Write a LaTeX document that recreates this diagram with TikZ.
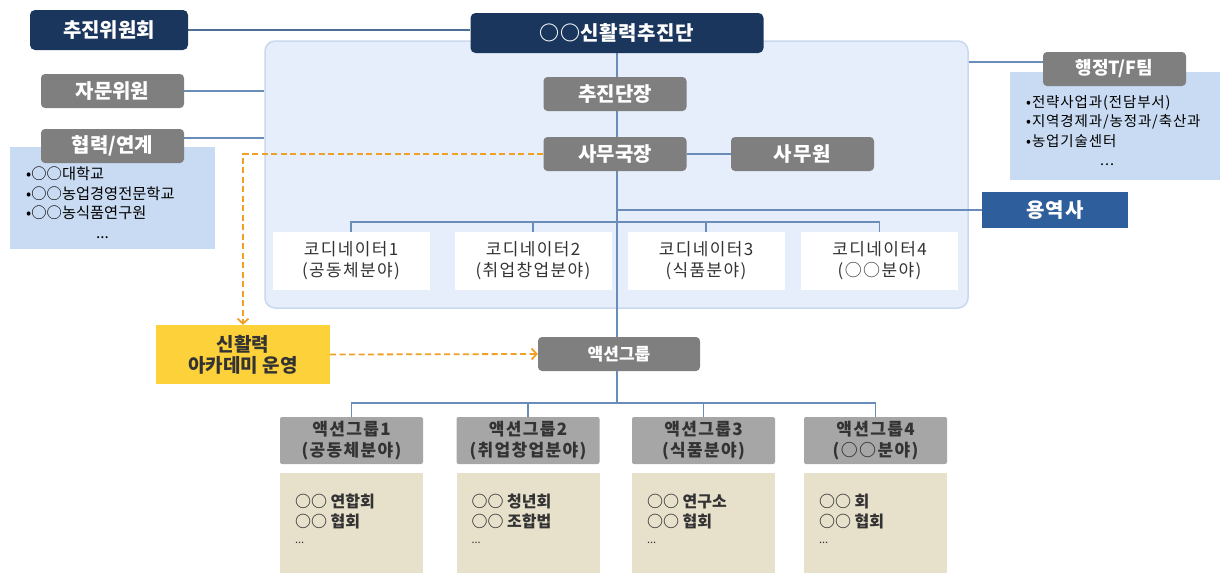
\documentclass[tikz,border=0pt]{standalone}
\usepackage{fontspec}
\setmainfont{Noto Sans CJK KR}
\usetikzlibrary{arrows.meta}
\definecolor{navy}{HTML}{1B365D}
\definecolor{boxgray}{HTML}{7F7F7F}
\definecolor{lgray}{HTML}{A6A6A6}
\definecolor{midblue}{HTML}{2F5E9C}
\definecolor{bigfill}{HTML}{E5EEFA}
\definecolor{bigline}{HTML}{C8D9EF}
\definecolor{sidefill}{HTML}{C9DBF2}
\definecolor{conn}{HTML}{6A8CB8}
\definecolor{topconn}{HTML}{4E6E92}
\definecolor{orng}{HTML}{F0A024}
\definecolor{gold}{HTML}{FDD13A}
\definecolor{beige}{HTML}{E7E1CC}
\definecolor{txt}{HTML}{333333}
\pgfdeclarelayer{bg}\pgfdeclarelayer{ln}\pgfsetlayers{bg,ln,main}
\newcommand{\lsp}[1]{\addfontfeature{LetterSpace=#1}}
\begin{document}
\begin{tikzpicture}[x=1pt,y=-1pt,
  base/.style={inner sep=0pt, align=center},
  navybox/.style={base, fill=navy, rounded corners=5pt, text=white, font=\bfseries\fontsize{20}{23}\selectfont},
  graybox/.style={base, fill=boxgray, rounded corners=4pt, text=white, minimum width=143pt, minimum height=34pt, font=\bfseries\fontsize{20}{23}\selectfont},
  bluebox/.style={base, fill=midblue, text=white, minimum width=146pt, minimum height=36pt, font=\bfseries\fontsize{20}{23}\selectfont},
  coordbox/.style={base, fill=white, minimum width=157pt, minimum height=58pt, text=txt, font=\fontsize{17}{21}\selectfont\lsp{8}},
  grphead/.style={base, fill=lgray, rounded corners=2pt, minimum width=143pt, minimum height=47pt, text=txt, font=\bfseries\fontsize{17}{21.5}\selectfont\lsp{8}},
  beigebox/.style={base, fill=beige, minimum width=143pt, minimum height=100pt},
  btext/.style={base, align=left, anchor=north west, text=txt, font=\bfseries\fontsize{16}{20}\selectfont},
  listtext/.style={base, align=left, anchor=north west, text=black, font=\fontsize{15.3}{19.5}\selectfont},
  sidebox/.style={base, fill=sidefill},
  bigbox/.style={base, fill=bigfill, draw=bigline, line width=1.5pt, rounded corners=10pt, minimum width=703pt, minimum height=267pt},
  conline/.style={draw=conn, line width=1.2pt},
  topline/.style={draw=topconn, line width=1.3pt},
  orangedash/.style={draw=orng, line width=1.8pt, dash pattern=on 6pt off 3.5pt, -{Straight Barb[length=5pt,width=11pt,line width=1.8pt]}}
]
\useasboundingbox (0,0) rectangle (1220,573);

\begin{pgfonlayer}{bg}
\node[bigbox] (big) at (616.5,174.5) {};
\node[sidebox, minimum width=205pt, minimum height=102pt] (hbox) at (112.5,198) {};
\node[sidebox, minimum width=215pt, minimum height=108pt] (tbox) at (1117.5,126) {};
\end{pgfonlayer}

% top level
\node[navybox, minimum width=158pt, minimum height=40pt] (chu) at (109,30) {추진위원회};
\node[navybox, minimum width=293pt, minimum height=40pt] (dan) at (617,33) {\lsp{3}○○신활력추진단};
\node[graybox] (jamun) at (112.5,91) {자문위원};
\node[graybox] (hyeop) at (112.5,146) {협력/연계};
\node[listtext] (hlist) at (26,167) {•○○대학교\\•○○농업경영전문학교\\•○○농식품연구원\\\hspace*{70pt}...};

\node[graybox, font=\bfseries\fontsize{18}{21}\selectfont] (haeng) at (1114.5,69) {행정T/F팀};
\node[listtext, font=\fontsize{14.5}{19.5}\selectfont\lsp{6}] (tlist) at (1026,95) {•전략사업과(전담부서)\\•지역경제과/농정과/축산과\\•농업기술센터\\\hspace*{74pt}...};

% inside
\node[graybox] (danjang) at (615,94) {추진단장};
\node[graybox] (samu) at (615,154) {사무국장};
\node[graybox] (samuwon) at (802.5,154) {\lsp{6}사무원};
\node[bluebox] (yong) at (1055,210) {\lsp{6}용역사};

\node[coordbox] (c1) at (351,261) {코디네이터1\\(공동체분야)};
\node[coordbox] (c2) at (533,261) {코디네이터2\\(취업창업분야)};
\node[coordbox] (c3) at (706,261) {코디네이터3\\(식품분야)};
\node[coordbox] (c4) at (879.5,261) {코디네이터4\\(○○분야)};

% lower
\node[base, fill=gold, minimum width=174pt, minimum height=59pt, text=txt, font=\bfseries\fontsize{19}{21}\selectfont] (acad) at (243,354.5) {신활력\\아카데미 운영};
\node[graybox, minimum width=162pt, font=\bfseries\fontsize{17}{20}\selectfont] (action) at (619,354) {액션그룹};

\node[grphead] (g1) at (351.5,440.5) {액션그룹1\\(공동체분야)};
\node[grphead] (g2) at (528,440.5) {액션그룹2\\(취업창업분야)};
\node[grphead] (g3) at (703.5,440.5) {액션그룹3\\(식품분야)};
\node[grphead] (g4) at (875.5,440.5) {액션그룹4\\(○○분야)};

\node[beigebox] (b1) at (351.5,523) {};
\node[beigebox] (b2) at (528,523) {};
\node[beigebox] (b3) at (703.5,523) {};
\node[beigebox] (b4) at (875.5,523) {};
\node[btext] (b1t) at ([xshift=15pt,yshift=-21pt]b1.north west) {○○ 연합회\\○○ 협회\\[-4pt]{\normalfont\fontsize{11}{12}\selectfont ...}};
\node[btext] (b2t) at ([xshift=15pt,yshift=-21pt]b2.north west) {○○ 청년회\\○○ 조합법\\[-4pt]{\normalfont\fontsize{11}{12}\selectfont ...}};
\node[btext] (b3t) at ([xshift=15pt,yshift=-21pt]b3.north west) {○○ 연구소\\○○ 협회\\[-4pt]{\normalfont\fontsize{11}{12}\selectfont ...}};
\node[btext] (b4t) at ([xshift=15pt,yshift=-21pt]b4.north west) {○○ 회\\○○ 협회\\[-4pt]{\normalfont\fontsize{11}{12}\selectfont ...}};

\coordinate (cbus) at (617,222);
\coordinate (abus) at (617,403);

\begin{pgfonlayer}{ln}
\draw[topline] (chu.east) -- (chu.east -| dan.west);
\draw[conline] (jamun.east) -- (jamun.east -| big.west);
\draw[conline] ([yshift=8pt]hyeop.east) -- ([yshift=8pt]hyeop.east -| big.west);
\draw[conline] ([yshift=7pt]haeng.west) -- ([yshift=7pt]haeng.west -| big.east);
\draw[conline] (dan.south) -- (dan.south |- action.north);
\draw[conline] (samu.east) -- (samuwon.west);
\draw[conline] (dan.south |- yong.west) -- (yong.west);
\draw[conline] (c1.north) -- (c1.north |- cbus) -- (c4.north |- cbus) -- (c4.north);
\draw[conline] (c2.north) -- (c2.north |- cbus);
\draw[conline] (c3.north) -- (c3.north |- cbus);
\draw[conline] (dan.south |- action.south) -- (abus);
\draw[conline] (g1.north) -- (g1.north |- abus) -- (g4.north |- abus) -- (g4.north);
\draw[conline] (g2.north) -- (g2.north |- abus);
\draw[conline] (g3.north) -- (g3.north |- abus);
\draw[orangedash] (samu.west) -| (acad.north);
\draw[orangedash] (acad.east) -- (action.west);
\end{pgfonlayer}
\end{tikzpicture}
\end{document}
